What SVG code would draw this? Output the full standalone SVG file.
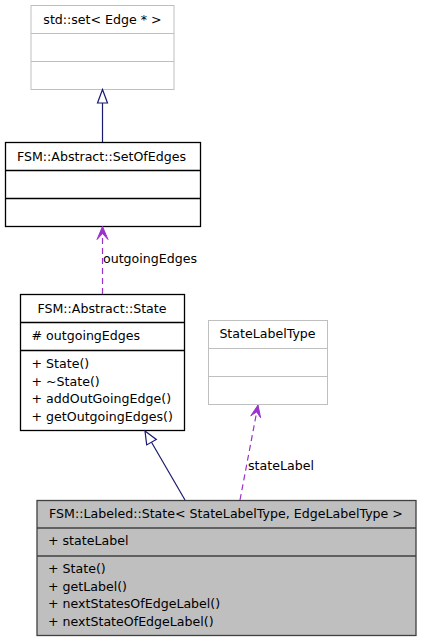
<svg xmlns="http://www.w3.org/2000/svg" width="421" height="643" viewBox="0 0 421 643">
<style>
text{font-family:"DejaVu Sans",sans-serif;font-size:12.6px;fill:#000}
.t{text-anchor:middle}
.ext rect,.ext line{stroke:#bfbfbf;fill:#fff;stroke-width:1}
.cls rect,.cls line{stroke:#000;fill:#fff;stroke-width:1.3}
.cur rect{fill:#bfbfbf;stroke:#404040;stroke-width:1.3}
.cur line{stroke:#404040;stroke-width:1.3}
.inh{stroke:#191970;fill:none;stroke-width:1.2}
.inhh{stroke:#191970;fill:#fff;stroke-width:1.2}
.use{stroke:#9a32cd;fill:none;stroke-width:1.2;stroke-dasharray:6,4}
.useh{stroke:#9a32cd;fill:#9a32cd;stroke-width:1}
</style>
<rect width="421" height="643" fill="#fff"/>
<g id="set" class="ext">
<rect x="31" y="5.5" width="143" height="84"/>
<line x1="31" y1="33.5" x2="174" y2="33.5"/>
<line x1="31" y1="61.5" x2="174" y2="61.5"/>
<text class="t" x="102.5" y="24">std::set&lt; Edge * &gt;</text>
</g>
<g id="setofedges" class="cls">
<rect x="5.5" y="142.5" width="195" height="84"/>
<line x1="5.5" y1="170.5" x2="200.5" y2="170.5"/>
<line x1="5.5" y1="198.5" x2="200.5" y2="198.5"/>
<text class="t" x="101.5" y="161">FSM::Abstract::SetOfEdges</text>
</g>
<g id="abstractstate" class="cls">
<rect x="20.5" y="294.5" width="164" height="136"/>
<line x1="20.5" y1="322.5" x2="184.5" y2="322.5"/>
<line x1="20.5" y1="350.5" x2="184.5" y2="350.5"/>
<text class="t" x="102" y="312.5">FSM::Abstract::State</text>
<text x="31.5" y="340">#  outgoingEdges</text>
<text x="31.5" y="368">+  State()</text>
<text x="31.5" y="385.5">+  ~State()</text>
<text x="31.5" y="403">+  addOutGoingEdge()</text>
<text x="31.5" y="420.5">+  getOutgoingEdges()</text>
</g>
<g id="statelabeltype" class="ext">
<rect x="208.5" y="320.5" width="119" height="84"/>
<line x1="208.5" y1="348.5" x2="327.5" y2="348.5"/>
<line x1="208.5" y1="376.5" x2="327.5" y2="376.5"/>
<text class="t" x="267.5" y="338">StateLabelType</text>
</g>
<g id="labeledstate" class="cur">
<rect x="37" y="500.5" width="379" height="135"/>
<line x1="37" y1="528" x2="416" y2="528"/>
<line x1="37" y1="556" x2="416" y2="556"/>
<text class="t" x="226" y="517.5">FSM::Labeled::State&lt; StateLabelType, EdgeLabelType &gt;</text>
<text x="48" y="545">+  stateLabel</text>
<text x="48" y="573">+  State()</text>
<text x="48" y="590.5">+  getLabel()</text>
<text x="48" y="608">+  nextStatesOfEdgeLabel()</text>
<text x="48" y="625.5">+  nextStateOfEdgeLabel()</text>
</g>
<g id="connectors">
<line class="inh" x1="102.5" y1="142" x2="102.5" y2="103"/>
<polygon class="inhh" points="102.5,89.5 97.5,103 107.5,103"/>
<line class="use" x1="102.5" y1="294" x2="102.5" y2="233"/>
<polygon class="useh" points="102.5,226.5 108,239.5 102.5,233.5 97,239.5"/>
<text x="103" y="262.5">outgoingEdges</text>
<line class="inh" x1="185" y1="500" x2="151.5" y2="442.2"/>
<polygon class="inhh" points="145,431 156.3,439.5 146.7,444.9"/>
<line class="use" x1="240" y1="500" x2="256.7" y2="412"/>
<polygon class="useh" points="258,405 260.6,417.7 256.7,411.9 250.8,415.8"/>
<text x="248" y="469.5">stateLabel</text>
</g>
</svg>
